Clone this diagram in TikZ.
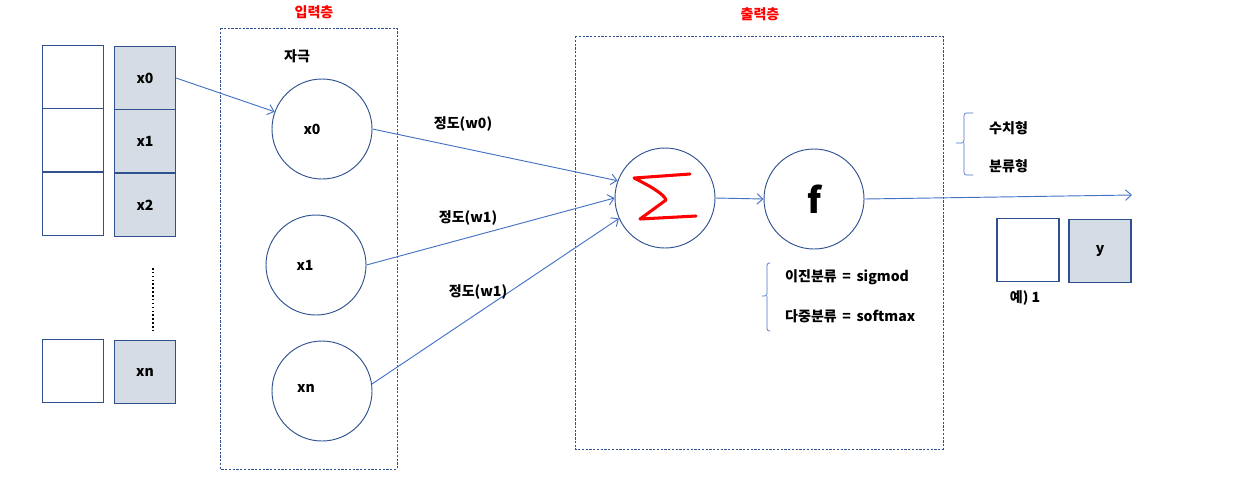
\documentclass[tikz,border=0pt]{standalone}
\usepackage{fontspec}
\setmainfont{Noto Sans CJK KR}
\definecolor{edge}{RGB}{47,82,143}
\definecolor{link}{RGB}{68,114,196}
\definecolor{cell}{RGB}{214,220,229}
\usetikzlibrary{arrows.meta}

\begin{document}
\begin{tikzpicture}[x=0.03cm, y=-0.03cm, font=\fontsize{12}{14}\selectfont\bfseries,
    blank/.style={draw=edge, line width=0.9pt, minimum width=1.83cm, minimum height=1.9cm, inner sep=0pt},
    filled/.style={blank, fill=cell},
    unit/.style={circle, draw=edge, line width=0.8pt, minimum size=3cm, inner sep=0pt},
    layer/.style={draw=edge, line width=0.8pt, dash pattern=on 2pt off 1.2pt},
    feed/.style={draw=link, line width=0.8pt, -{Straight Barb[length=5pt,width=9pt]}},
    bracket/.style={draw=link, line width=0.6pt, rounded corners=2pt}]
  \useasboundingbox (0,0) rectangle (1242,490);

  % input cells
  \node[blank] (wa) at (73,77) {};
  \node[blank] (wb) at (73,140) {};
  \node[blank] (wc) at (73,204) {};
  \node[blank] (wn) at (73,371) {};
  \node[filled] (ga) at (145,78) {x0};
  \node[filled] (gb) at (145,141) {x1};
  \node[filled] (gc) at (145,205) {x2};
  \node[filled] (gn) at (145,372) {xn};
  \draw[line width=1.3pt, dotted] (153,268) -- (153,330);

  % input layer
  \draw[layer] (220,28) rectangle (397,469);
  \node[text=red] (inlabel) at (314,12) {입력층};
  \node (stim) at (297,56) {자극};
  \node[unit] (c0) at (322,129) {};
  \node[unit] (c1) at (316,265) {};
  \node[unit] (cn) at (322,391) {};
  \node at ([xshift=-0.3cm]c0) {x0};
  \node at ([xshift=-0.33cm]c1) {x1};
  \node at ([xshift=-0.48cm,yshift=0.08cm]cn) {xn};

  % output layer
  \draw[layer] (575,36) rectangle (943,449);
  \node[text=red] (outlabel) at (760,14) {출력층};
  \node[unit] (sum) at (665,198) {};
  \node[unit, font=\fontsize{30}{32}\selectfont\bfseries] (act) at (814,199) {f};
  \draw[red, line width=2.6pt, line cap=round, line join=round]
    (690,174) -- (634,178) .. controls (650,186) and (664,194) .. (666,200)
    -- (640,219) -- (696,216);

  % connections
  \draw[feed] (ga.east) -- (c0.160);
  \draw[feed] (c0.east) -- (sum.160);
  \draw[feed] (c1.east) -- (sum.west);
  \draw[feed] (cn.8) -- (sum.204);
  \node (w0) at (463,124) {정도(w0)};
  \node (w1) at (468,218) {정도(w1)};
  \node (w2) at (478,292) {정도(w1)};
  \draw[feed] (sum.east) -- (act.west);
  \coordinate (out) at (1132,195);
  \draw[feed] (act.east) -- (out);

  % activation notes
  \draw[bracket] (770,263) -- (767,263) -- (767,296) -- (762,296) (767,296) -- (767,331) -- (770,331);
  \node[anchor=west] (bin) at (781,277) {이진분류\ \,=\ \,sigmod};
  \node[anchor=west] (multi) at (781,316) {다중분류\ \,=\ \,softmax};

  % output types
  \draw[bracket] (973,113) -- (964,113) -- (964,143) -- (956,143) (964,143) -- (964,175) -- (973,175);
  \node[anchor=west] (num) at (985,128) {수치형};
  \node[anchor=west] (cls) at (985,166) {분류형};
  \node[blank, minimum width=1.86cm] (ex) at (1028,250) {};
  \node[filled, minimum width=1.86cm] (yv) at (1100,251) {y};
  \node (exlabel) at (1025,298) {예) 1};
\end{tikzpicture}
\end{document}
